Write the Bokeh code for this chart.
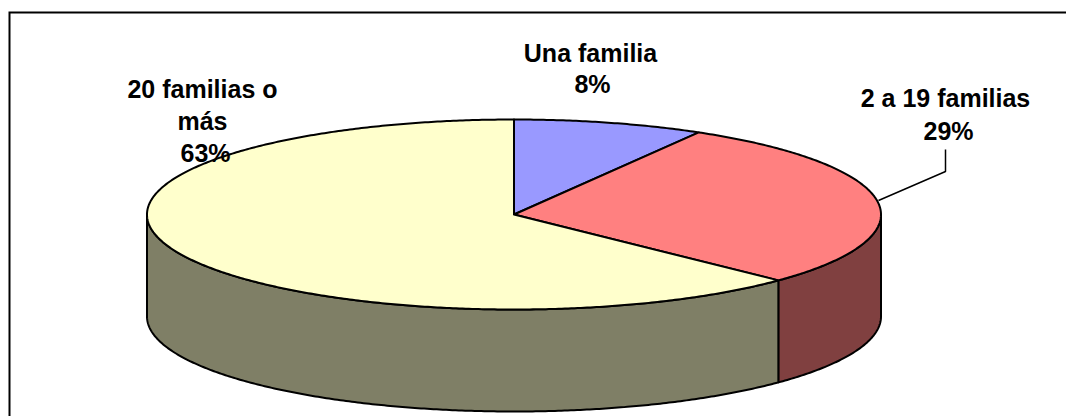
import numpy as np
from bokeh.plotting import figure
from bokeh.models import Range1d
from bokeh.core.properties import value
from bokeh.embed import file_html
from bokeh.resources import INLINE

categories = ["Una familia", "2 a 19 familias", "20 familias o más"]
shares = [8.4, 28.8, 62.8]
shown = ["8%", "29%", "63%"]
top_colors = ["#9999FF", "#FF8080", "#FFFFCC"]
side_colors = ["#808080", "#804040", "#7F7F66"]

label_lines = [
    ["Una familia", "8%"],
    ["2 a 19 familias", "29%"],
    ["20 familias o", "más", "63%"],
]
label_x = [[590, 592], [945, 948], [202, 202, 205]]
label_y = [[52, 83], [97, 130], [88, 120, 152]]

W, H = 1066, 416
CX, CY, RX, RY, DEPTH = 513.5, 214, 367, 95, 102

p = figure(width=W, height=H, output_backend="svg", toolbar_location=None,
           x_range=Range1d(0, W), y_range=Range1d(H, 0), min_border=0,
           background_fill_color="white", border_fill_color="white")
p.axis.visible = False
p.grid.visible = False
p.outline_line_color = None


def arc(a0, a1, dy=0):
    t = np.radians(np.linspace(a0, a1, max(int(abs(a1 - a0) * 2), 2)))
    return CX + RX * np.sin(t), CY - RY * np.cos(t) + dy


edges = np.concatenate([[0], np.cumsum(shares)]) / sum(shares) * 360
LW = 2

# side walls: only the part of the rim in front of the pie (90..270 degrees)
for i in range(len(shares)):
    a0, a1 = max(edges[i], 90), min(edges[i + 1], 270)
    if a1 <= a0:
        continue
    x0, y0 = arc(a0, a1)
    x1, y1 = arc(a1, a0, DEPTH)
    p.patch(np.concatenate([x0, x1]), np.concatenate([y0, y1]),
            fill_color=side_colors[i], line_color="black", line_width=LW, line_join="round")

# top faces
for i in range(len(shares)):
    x0, y0 = arc(edges[i], edges[i + 1])
    p.patch(np.concatenate([[CX], x0]), np.concatenate([[CY], y0]),
            fill_color=top_colors[i], line_color="black", line_width=LW, line_join="round")

# frame (open on the right and at the bottom)
p.line([9, 9, W], [H, 12, 12], line_color="black", line_width=2, line_join="miter")

# leader line of the second label
p.line([878, 945, 945], [200, 171, 149], line_color="black", line_width=1.5)

# labels
for lines, lxs, lys in zip(label_lines, label_x, label_y):
    for s, lx, ly in zip(lines, lxs, lys):
        p.text([lx], [ly], text=[s], text_font=value("Liberation Sans"),
               text_font_style="bold", text_font_size="25px", text_color="black",
               text_align="center", text_baseline="middle")

open("out.html", "w").write(file_html(p, INLINE))
